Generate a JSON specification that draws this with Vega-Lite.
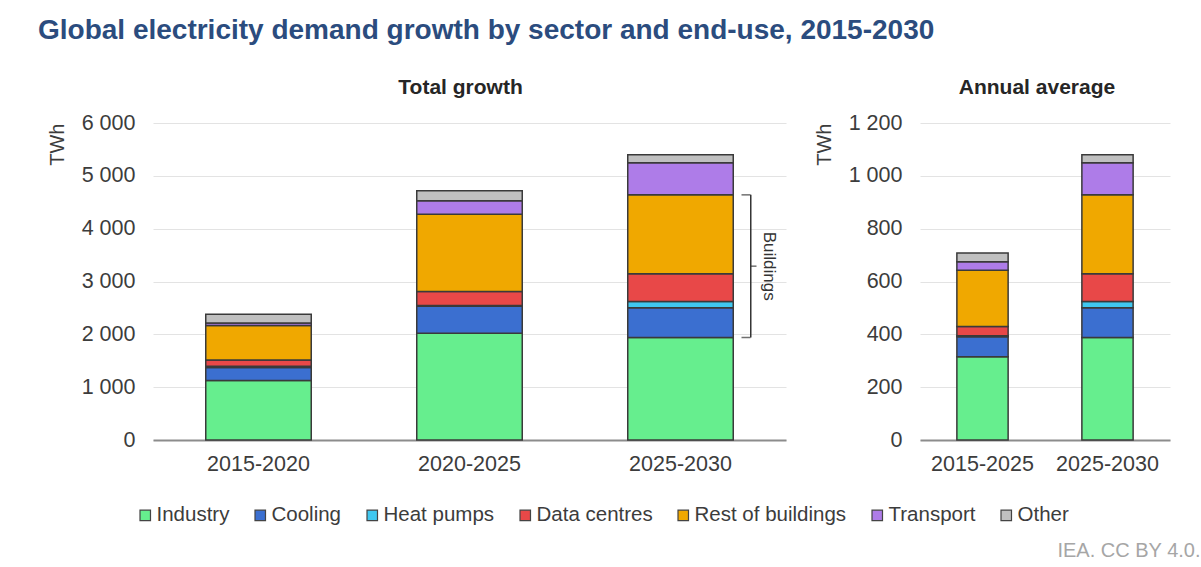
{
  "$schema": "https://vega.github.io/schema/vega-lite/v6.json",
  "background": "white",
  "padding": {"left": 38, "top": 17, "right": 0, "bottom": 4},
  "title": {
    "text": "Global electricity demand growth by sector and end-use, 2015-2030",
    "anchor": "start",
    "frame": "group",
    "font": "Liberation Sans",
    "fontSize": 28,
    "fontWeight": "bold",
    "color": "#2b4c7e",
    "dx": -115,
    "offset": 32
  },
  "datasets": {
    "total": [
      {"period": "2015-2020", "sector": "Industry", "twh": 1125},
      {"period": "2015-2020", "sector": "Cooling", "twh": 245},
      {"period": "2015-2020", "sector": "Heat pumps", "twh": 25},
      {"period": "2015-2020", "sector": "Data centres", "twh": 120},
      {"period": "2015-2020", "sector": "Rest of buildings", "twh": 650},
      {"period": "2015-2020", "sector": "Transport", "twh": 50},
      {"period": "2015-2020", "sector": "Other", "twh": 165},
      {"period": "2020-2025", "sector": "Industry", "twh": 2020},
      {"period": "2020-2025", "sector": "Cooling", "twh": 510},
      {"period": "2020-2025", "sector": "Heat pumps", "twh": 15},
      {"period": "2020-2025", "sector": "Data centres", "twh": 265},
      {"period": "2020-2025", "sector": "Rest of buildings", "twh": 1465},
      {"period": "2020-2025", "sector": "Transport", "twh": 255},
      {"period": "2020-2025", "sector": "Other", "twh": 190},
      {"period": "2025-2030", "sector": "Industry", "twh": 1940},
      {"period": "2025-2030", "sector": "Cooling", "twh": 565},
      {"period": "2025-2030", "sector": "Heat pumps", "twh": 115},
      {"period": "2025-2030", "sector": "Data centres", "twh": 525},
      {"period": "2025-2030", "sector": "Rest of buildings", "twh": 1495},
      {"period": "2025-2030", "sector": "Transport", "twh": 610},
      {"period": "2025-2030", "sector": "Other", "twh": 150}
    ],
    "annual": [
      {"period": "2015-2025", "sector": "Industry", "twh": 315},
      {"period": "2015-2025", "sector": "Cooling", "twh": 76},
      {"period": "2015-2025", "sector": "Heat pumps", "twh": 4},
      {"period": "2015-2025", "sector": "Data centres", "twh": 35},
      {"period": "2015-2025", "sector": "Rest of buildings", "twh": 213},
      {"period": "2015-2025", "sector": "Transport", "twh": 32},
      {"period": "2015-2025", "sector": "Other", "twh": 33},
      {"period": "2025-2030", "sector": "Industry", "twh": 388},
      {"period": "2025-2030", "sector": "Cooling", "twh": 113},
      {"period": "2025-2030", "sector": "Heat pumps", "twh": 23},
      {"period": "2025-2030", "sector": "Data centres", "twh": 105},
      {"period": "2025-2030", "sector": "Rest of buildings", "twh": 299},
      {"period": "2025-2030", "sector": "Transport", "twh": 122},
      {"period": "2025-2030", "sector": "Other", "twh": 30}
    ],
    "bracket": [
      {"period": "2025-2030", "lo": 1940, "hi": 4640, "mid": 3290, "label": "Buildings"}
    ]
  },
  "hconcat": [
    {
      "width": 633,
      "height": 317,
      "title": {"text": "Total  growth", "fontSize": 21, "fontWeight": "bold", "color": "#262626", "offset": 14, "dx": -9},
      "layer": [
        {
          "data": {"name": "total"},
          "transform": [{"calculate": "indexof(['Industry','Cooling','Heat pumps','Data centres','Rest of buildings','Transport','Other'], datum.sector)", "as": "stackorder"}],
          "mark": {"type": "bar", "stroke": "#3a3a3a", "strokeWidth": 1.5},
          "encoding": {
            "x": {"field": "period", "type": "nominal", "scale": {"paddingInner": 0.5, "paddingOuter": 0.25},
                  "axis": {"title": null, "labelAngle": 0, "labelPadding": 13, "domainColor": "#8c8c8c", "domainWidth": 2, "ticks": false}},
            "y": {"field": "twh", "type": "quantitative", "stack": "zero", "scale": {"domain": [0, 6000], "nice": false},
                  "axis": {"title": "TWh", "values": [0, 1000, 2000, 3000, 4000, 5000, 6000],
                           "labelExpr": "replace(format(datum.value, ','), ',', ' ')"}},
            "order": {"field": "stackorder", "type": "quantitative"},
            "color": {"field": "sector", "type": "nominal",
                      "sort": ["Industry", "Cooling", "Heat pumps", "Data centres", "Rest of buildings", "Transport", "Other"],
                      "scale": {"domain": ["Industry", "Cooling", "Heat pumps", "Data centres", "Rest of buildings", "Transport", "Other"],
                                "range": ["#66ee8e", "#3b6fd0", "#40c8f0", "#e84848", "#f0a800", "#ae7ce8", "#c0c0c0"]},
                      "legend": {"title": null}}
          }
        },
        {
          "data": {"name": "bracket"},
          "mark": {"type": "rule", "color": "#333333", "strokeWidth": 1.5},
          "encoding": {
            "x": {"field": "period", "type": "nominal", "bandPosition": 1.166},
            "y": {"field": "lo", "type": "quantitative"},
            "y2": {"field": "hi"}
          }
        },
        {
          "data": {"name": "bracket"},
          "mark": {"type": "tick", "color": "#333333", "thickness": 1.5, "size": 9, "xOffset": 65.5},
          "encoding": {
            "x": {"field": "period", "type": "nominal"},
            "y": {"field": "lo", "type": "quantitative"}
          }
        },
        {
          "data": {"name": "bracket"},
          "mark": {"type": "tick", "color": "#333333", "thickness": 1.5, "size": 9, "xOffset": 65.5},
          "encoding": {
            "x": {"field": "period", "type": "nominal"},
            "y": {"field": "hi", "type": "quantitative"}
          }
        },
        {
          "data": {"name": "bracket"},
          "mark": {"type": "tick", "color": "#333333", "thickness": 1.5, "size": 6, "xOffset": 73},
          "encoding": {
            "x": {"field": "period", "type": "nominal"},
            "y": {"field": "mid", "type": "quantitative"}
          }
        },
        {
          "data": {"name": "bracket"},
          "mark": {"type": "text", "angle": 90, "fontSize": 17, "color": "#333333", "align": "center", "baseline": "middle"},
          "encoding": {
            "x": {"field": "period", "type": "nominal", "bandPosition": 1.336},
            "y": {"field": "mid", "type": "quantitative"},
            "text": {"field": "label"}
          }
        }
      ]
    },
    {
      "width": 250,
      "height": 317,
      "title": {"text": "Annual average", "fontSize": 21, "fontWeight": "bold", "color": "#262626", "offset": 14, "dx": -8},
      "data": {"name": "annual"},
      "transform": [{"calculate": "indexof(['Industry','Cooling','Heat pumps','Data centres','Rest of buildings','Transport','Other'], datum.sector)", "as": "stackorder"}],
      "mark": {"type": "bar", "stroke": "#3a3a3a", "strokeWidth": 1.5},
      "encoding": {
        "x": {"field": "period", "type": "nominal", "scale": {"paddingInner": 0.59, "paddingOuter": 0.295},
              "axis": {"title": "IEA. CC BY 4.0.", "labelAngle": 0, "labelPadding": 13, "domainColor": "#8c8c8c", "domainWidth": 2, "ticks": false,
                       "titleAnchor": "end", "titleAlign": "right", "titleX": 280, "titleY": 110, "titleBaseline": "middle",
                       "titleColor": "#a6a6a6", "titleFontSize": 20, "titleFontWeight": "normal"}},
        "y": {"field": "twh", "type": "quantitative", "stack": "zero", "scale": {"domain": [0, 1200], "nice": false},
              "axis": {"title": "TWh", "values": [0, 200, 400, 600, 800, 1000, 1200],
                       "labelExpr": "replace(format(datum.value, ','), ',', ' ')"}},
        "order": {"field": "stackorder", "type": "quantitative"},
        "color": {"field": "sector", "type": "nominal",
                  "sort": ["Industry", "Cooling", "Heat pumps", "Data centres", "Rest of buildings", "Transport", "Other"],
                  "legend": {"title": null}}
      }
    }
  ],
  "spacing": 134,
  "bounds": "flush",
  "resolve": {"scale": {"color": "shared"}},
  "config": {
    "font": "Liberation Sans",
    "view": {"stroke": null},
    "axis": {"labelFont": "Liberation Sans", "labelFontSize": 21.5, "labelColor": "#3c3c3c",
             "titleFont": "Liberation Sans", "titleFontSize": 20, "titleFontWeight": "normal", "titleColor": "#3c3c3c",
             "gridColor": "#e3e3e3", "gridWidth": 1.2},
    "axisY": {"domain": false, "ticks": false, "labelPadding": 18, "titleAnchor": "end", "titlePadding": 14},
    "axisX": {"grid": false},
    "legend": {"orient": "none", "legendX": -18, "legendY": 382, "direction": "horizontal",
               "symbolType": "square", "symbolSize": 110, "symbolStrokeColor": "#444444", "symbolStrokeWidth": 1.2,
               "labelFont": "Liberation Sans", "labelFontSize": 20.5, "labelColor": "#3c3c3c", "labelOffset": 1,
               "columnPadding": 20, "symbolOpacity": 1},
    "title": {"font": "Liberation Sans"}
  }
}
